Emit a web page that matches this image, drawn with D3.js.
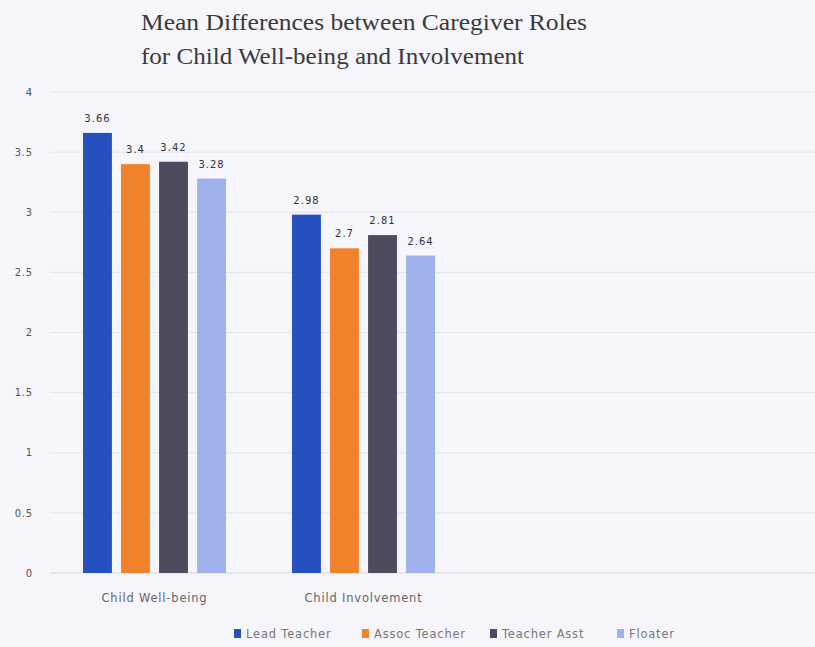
<!DOCTYPE html>
<html>
<head>
<meta charset="utf-8">
<script src="https://cdn.jsdelivr.net/npm/d3@7"></script>
<style>
  body { margin: 0; background: #f5f5fb; }
  svg { display: block; }
</style>
</head>
<body>
<svg width="815" height="647"></svg>
<script>
const width = 815, height = 647;

const categories = ["Child Well-being", "Child Involvement"];
const roles = ["Lead Teacher", "Assoc Teacher", "Teacher Asst", "Floater"];
const leadTeacher = [3.66, 2.98];
const assocTeacher = [3.4, 2.7];
const teacherAsst = [3.42, 2.81];
const floater = [3.28, 2.64];
const yTicks = [0, 0.5, 1, 1.5, 2, 2.5, 3, 3.5, 4];
const colors = ["#2650c0", "#f0822c", "#4f4a5e", "#9fb2ec"];

const seriesValues = [leadTeacher, assocTeacher, teacherAsst, floater];

const svg = d3.select("svg");

// Title
const title = svg.append("g")
    .attr("font-family", "'Liberation Serif', 'Times New Roman', serif")
    .attr("font-size", "24px")
    .attr("fill", "#3a3a3a");
title.append("text")
    .attr("x", 141).attr("y", 30)
    .attr("textLength", 446)
    .attr("lengthAdjust", "spacingAndGlyphs")
    .text("Mean Differences between Caregiver Roles");
title.append("text")
    .attr("x", 141).attr("y", 64)
    .attr("textLength", 383)
    .attr("lengthAdjust", "spacingAndGlyphs")
    .text("for Child Well-being  and Involvement");

const y = d3.scaleLinear().domain([0, 4]).range([573, 92]);

const x0 = d3.scaleBand()
    .domain(categories)
    .range([50, 468])
    .paddingInner(0.316)
    .paddingOuter(0.158);

const x1 = d3.scaleBand()
    .domain(roles)
    .range([0, x0.bandwidth()])
    .paddingInner(0.24);

// Gridlines
svg.selectAll(".grid")
    .data(yTicks)
    .enter().append("line")
    .attr("class", "grid")
    .attr("x1", 50)
    .attr("x2", width)
    .attr("y1", d => y(d))
    .attr("y2", d => y(d))
    .style("stroke", d => d === 0 ? "#d6d6de" : "#e4e4ec")
    .style("stroke-width", 1);

// Y axis labels
const yAxis = d3.axisLeft(y).tickValues(yTicks).tickSize(0).tickPadding(0)
    .tickFormat(d3.format("~g"));
svg.append("g")
    .attr("transform", "translate(33,0)")
    .call(yAxis)
    .call(g => g.select(".domain").remove())
    .call(g => g.selectAll("text")
        .attr("font-family", "'DejaVu Sans', sans-serif")
        .attr("font-size", "10px")
        .attr("letter-spacing", "0.8px")
        .attr("fill", "#555"));

// Bars
const rows = categories.map((c, i) => ({
    category: c,
    values: roles.map((r, j) => ({ role: r, value: seriesValues[j][i], color: colors[j] }))
}));

const groups = svg.selectAll(".group")
    .data(rows)
    .enter().append("g")
    .attr("class", "group")
    .attr("transform", d => `translate(${x0(d.category)},0)`);

groups.selectAll("rect")
    .data(d => d.values)
    .enter().append("rect")
    .attr("x", d => x1(d.role))
    .attr("y", d => y(d.value))
    .attr("width", x1.bandwidth())
    .attr("height", d => y(0) - y(d.value))
    .attr("fill", d => d.color);

// Value labels
groups.selectAll(".label")
    .data(d => d.values)
    .enter().append("text")
    .attr("class", "label")
    .attr("x", d => x1(d.role) + x1.bandwidth() / 2)
    .attr("y", d => y(d.value) - 11)
    .attr("text-anchor", "middle")
    .attr("font-family", "'DejaVu Sans', sans-serif")
    .attr("font-size", "10px")
    .attr("letter-spacing", "1px")
    .attr("fill", "#333")
    .text(d => d.value);

// Category labels
const xAxis = d3.axisBottom(x0).tickSize(0).tickPadding(0);
svg.append("g")
    .attr("transform", "translate(0,594)")
    .call(xAxis)
    .call(g => g.select(".domain").remove())
    .call(g => g.selectAll("text")
        .attr("font-family", "'DejaVu Sans', sans-serif")
        .attr("font-size", "11.5px")
        .attr("letter-spacing", "0.8px")
        .attr("fill", "#666"));

// Legend
const legendX = [234, 362, 490, 617];
const legend = svg.selectAll(".legend")
    .data(roles)
    .enter().append("g")
    .attr("class", "legend")
    .attr("transform", (d, i) => `translate(${legendX[i]},634)`);

legend.append("rect")
    .attr("x", 0).attr("y", -5)
    .attr("width", 7).attr("height", 9)
    .attr("fill", (d, i) => colors[i]);

legend.append("text")
    .attr("x", 12).attr("y", 4)
    .attr("font-family", "'DejaVu Sans', sans-serif")
    .attr("font-size", "11.5px")
    .attr("letter-spacing", "0.8px")
    .attr("fill", "#777")
    .text(d => d);
</script>
</body>
</html>
